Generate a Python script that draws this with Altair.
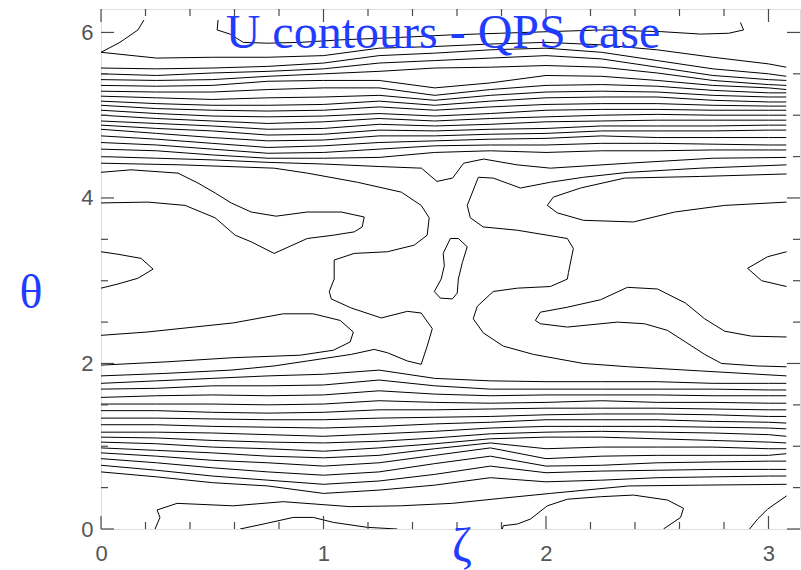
import math
import altair as alt
import pandas as pd

PI = math.pi

# ---------------- data (zeta, theta) ----------------
zeta_cols = [0.0, 0.25, 0.5, 0.75, 1.0, 1.25, 1.5, 1.75, 2.0, 2.25, 2.5, 2.75, 3.0, 3.08]

# upper band of nearly horizontal contours (theta at each zeta column)
upper_band = [
    [5.76, 5.69, 5.70, 5.70, 5.72, 5.81, 5.83, 5.86, 5.88, 5.85, 5.79, 5.70, 5.62, 5.58],
    [5.57, 5.56, 5.57, 5.59, 5.63, 5.72, 5.75, 5.79, 5.81, 5.76, 5.66, 5.56, 5.50, 5.47],
    [5.50, 5.48, 5.51, 5.53, 5.56, 5.63, 5.66, 5.69, 5.72, 5.68, 5.58, 5.48, 5.43, 5.42],
    [5.43, 5.42, 5.43, 5.47, 5.50, 5.53, 5.57, 5.58, 5.60, 5.58, 5.51, 5.42, 5.37, 5.36],
    [5.36, 5.35, 5.36, 5.41, 5.42, 5.42, 5.33, 5.39, 5.48, 5.47, 5.42, 5.36, 5.33, 5.31],
    [5.29, 5.28, 5.28, 5.31, 5.33, 5.33, 5.24, 5.31, 5.36, 5.37, 5.35, 5.30, 5.27, 5.27],
    [5.23, 5.21, 5.19, 5.21, 5.22, 5.24, 5.18, 5.24, 5.28, 5.29, 5.28, 5.24, 5.22, 5.22],
    [5.17, 5.14, 5.12, 5.12, 5.13, 5.17, 5.12, 5.17, 5.21, 5.22, 5.22, 5.18, 5.16, 5.16],
    [5.12, 5.08, 5.06, 5.05, 5.06, 5.10, 5.06, 5.10, 5.13, 5.14, 5.14, 5.12, 5.11, 5.11],
    [5.06, 5.02, 4.99, 4.98, 4.99, 5.02, 4.99, 5.02, 5.06, 5.07, 5.07, 5.06, 5.06, 5.06],
    [5.00, 4.96, 4.93, 4.90, 4.92, 4.96, 4.93, 4.96, 4.98, 5.00, 5.01, 5.00, 5.00, 5.00],
    [4.93, 4.90, 4.87, 4.83, 4.84, 4.89, 4.87, 4.89, 4.92, 4.93, 4.94, 4.94, 4.94, 4.94],
    [4.88, 4.84, 4.81, 4.76, 4.77, 4.82, 4.81, 4.83, 4.84, 4.87, 4.87, 4.87, 4.88, 4.88],
    [4.83, 4.78, 4.73, 4.69, 4.70, 4.75, 4.75, 4.77, 4.78, 4.81, 4.81, 4.81, 4.82, 4.82],
    [4.75, 4.71, 4.66, 4.61, 4.63, 4.67, 4.69, 4.71, 4.72, 4.75, 4.73, 4.73, 4.73, 4.73],
    [4.67, 4.64, 4.59, 4.54, 4.55, 4.59, 4.63, 4.64, 4.64, 4.66, 4.66, 4.65, 4.64, 4.64],
    [4.59, 4.57, 4.52, 4.48, 4.48, 4.49, 4.55, 4.57, 4.55, 4.57, 4.57, 4.58, 4.58, 4.58],
]

# lower band of nearly horizontal contours
lower_band = [
    [1.76, 1.79, 1.82, 1.85, 1.87, 1.92, 1.82, 1.79, 1.78, 1.78, 1.78, 1.76, 1.76, 1.76],
    [1.69, 1.70, 1.73, 1.73, 1.74, 1.80, 1.73, 1.69, 1.69, 1.69, 1.69, 1.69, 1.68, 1.68],
    [1.59, 1.61, 1.62, 1.61, 1.62, 1.67, 1.63, 1.61, 1.62, 1.62, 1.62, 1.61, 1.61, 1.61],
    [1.51, 1.51, 1.51, 1.50, 1.51, 1.55, 1.53, 1.52, 1.53, 1.55, 1.53, 1.53, 1.52, 1.52],
    [1.43, 1.43, 1.41, 1.40, 1.41, 1.44, 1.44, 1.45, 1.46, 1.46, 1.46, 1.45, 1.44, 1.44],
    [1.34, 1.34, 1.33, 1.32, 1.32, 1.34, 1.35, 1.36, 1.38, 1.39, 1.39, 1.38, 1.36, 1.36],
    [1.26, 1.26, 1.24, 1.23, 1.22, 1.24, 1.27, 1.29, 1.32, 1.32, 1.32, 1.30, 1.29, 1.28],
    [1.17, 1.17, 1.16, 1.14, 1.12, 1.15, 1.18, 1.22, 1.24, 1.24, 1.24, 1.23, 1.22, 1.21],
    [1.11, 1.10, 1.07, 1.05, 1.04, 1.06, 1.10, 1.15, 1.17, 1.18, 1.17, 1.16, 1.14, 1.12],
    [1.05, 1.03, 0.99, 0.97, 0.94, 0.98, 1.03, 1.09, 1.11, 1.11, 1.09, 1.07, 1.05, 1.04],
    [0.98, 0.95, 0.92, 0.88, 0.86, 0.89, 0.97, 1.04, 0.97, 0.99, 0.99, 0.99, 0.97, 0.97],
    [0.92, 0.88, 0.83, 0.80, 0.76, 0.80, 0.89, 0.98, 0.85, 0.88, 0.89, 0.89, 0.89, 0.91],
    [0.85, 0.80, 0.74, 0.69, 0.65, 0.69, 0.79, 0.88, 0.76, 0.77, 0.80, 0.81, 0.82, 0.82],
    [0.77, 0.71, 0.64, 0.59, 0.54, 0.58, 0.66, 0.76, 0.68, 0.70, 0.71, 0.72, 0.72, 0.72],
    [0.69, 0.63, 0.56, 0.52, 0.43, 0.47, 0.53, 0.62, 0.57, 0.59, 0.62, 0.63, 0.64, 0.64],
]

# individual contours: (zeta list, theta list)
band_edge_z = [0, 0.25, 0.5, 0.75, 1.0, 1.25, 1.44, 1.51, 1.58, 1.63, 1.72, 1.87, 2.02, 2.37, 2.75, 3.08]
band_edge_t = [4.50, 4.48, 4.46, 4.43, 4.41, 4.38, 4.36, 4.20, 4.24, 4.42, 4.47, 4.40, 4.36, 4.42, 4.48, 4.49]

corner_tl_z = [0, 0.085, 0.166, 0.193]
corner_tl_t = [5.76, 5.88, 6.03, 6.15]

top_arc_z = [0.526, 0.522, 0.580, 0.639, 0.751, 0.895, 1.075, 1.345, 1.570, 1.795, 2.020,
             2.245, 2.515, 2.695, 2.821, 2.888, 2.874]
top_arc_t = [6.15, 6.03, 5.98, 5.88, 5.87, 5.88, 5.91, 5.94, 5.97, 5.99, 6.01,
             6.03, 6.01, 5.98, 5.99, 6.03, 6.12]

tongue_a_z = [0, 0.135, 0.346, 0.436, 0.513, 0.585, 0.675, 0.787, 0.927, 1.080, 1.183,
              1.174, 1.138, 1.044, 0.927, 0.778, 0.675, 0.603, 0.513, 0.378, 0.211, 0]
tongue_a_t = [4.31, 4.34, 4.30, 4.18, 4.06, 3.94, 3.83, 3.78, 3.83, 3.83, 3.77,
              3.65, 3.59, 3.55, 3.51, 3.33, 3.47, 3.55, 3.76, 3.91, 3.95, 3.94]

tongue_b_z = [0, 0.076, 0.180, 0.234, 0.166, 0.076, 0]
tongue_b_t = [3.35, 3.32, 3.27, 3.14, 3.03, 2.96, 2.91]

centre_left_z = [0, 0.360, 0.778, 0.927, 1.152, 1.350, 1.439, 1.475, 1.466, 1.408, 1.287,
                 1.138, 1.048, 1.048, 1.026, 1.035, 1.125, 1.260, 1.377, 1.439, 1.489,
                 1.466, 1.439, 1.377, 1.287, 1.228, 1.125, 0.927, 0.778, 0.585, 0.288, 0]
centre_left_t = [4.42, 4.40, 4.36, 4.30, 4.19, 4.07, 3.91, 3.76, 3.55, 3.43, 3.35,
                 3.33, 3.25, 3.02, 2.87, 2.78, 2.67, 2.55, 2.63, 2.61, 2.42,
                 2.21, 1.99, 2.03, 2.13, 2.17, 2.11, 2.03, 1.97, 1.92, 1.88, 1.85]

tongue_c_z = [0, 0.207, 0.594, 0.819, 0.954, 1.075, 1.134, 1.120, 1.044, 0.895, 0.594, 0.297, 0]
tongue_c_t = [2.34, 2.38, 2.49, 2.60, 2.60, 2.52, 2.38, 2.26, 2.16, 2.10, 2.07, 2.02, 1.98]

centre_right_z = [3.081, 2.695, 2.371, 2.168, 2.020, 1.885, 1.763, 1.696, 1.646, 1.660, 1.718,
                  1.871, 2.096, 2.123, 2.101, 2.096, 2.020, 1.871, 1.763, 1.691, 1.673,
                  1.718, 1.808, 1.943, 2.168, 2.371, 2.695, 3.081]
centre_right_t = [4.40, 4.36, 4.31, 4.25, 4.19, 4.12, 4.24, 4.25, 3.91, 3.76, 3.65,
                  3.61, 3.51, 3.39, 3.10, 3.02, 2.93, 2.91, 2.87, 2.69, 2.54,
                  2.37, 2.21, 2.11, 2.00, 1.96, 1.91, 1.85]

tongue_d_z = [3.081, 2.803, 2.578, 2.393, 2.168, 2.051, 2.006, 2.033, 2.155, 2.353, 2.695, 3.081]
tongue_d_t = [3.95, 3.91, 3.83, 3.71, 3.73, 3.82, 3.91, 4.01, 4.12, 4.24, 4.26, 4.29]

tongue_e_z = [3.081, 2.996, 2.906, 2.969, 3.081]
tongue_e_t = [3.35, 3.29, 3.15, 3.00, 2.93]

tongue_f_z = [3.081, 2.924, 2.803, 2.713, 2.627, 2.501, 2.366, 2.245, 2.096, 1.975, 1.952,
              1.975, 2.096, 2.321, 2.443, 2.546, 2.627, 2.713, 2.789, 2.951, 3.081]
tongue_f_t = [2.32, 2.33, 2.39, 2.54, 2.73, 2.90, 2.92, 2.77, 2.68, 2.62, 2.52,
              2.48, 2.44, 2.50, 2.48, 2.40, 2.26, 2.11, 2.00, 1.97, 1.96]

islet_z = [1.538, 1.570, 1.606, 1.646, 1.624, 1.606, 1.601, 1.579, 1.525, 1.498, 1.529, 1.543, 1.538]
islet_t = [3.33, 3.51, 3.51, 3.41, 3.22, 3.02, 2.85, 2.78, 2.79, 2.87, 3.02, 3.18, 3.33]

low_line_z = [0.243, 0.265, 0.252, 0.342, 0.594, 0.819, 1.120, 1.345, 1.579, 1.795, 2.020, 2.371, 2.695, 3.081]
low_line_t = [0.0, 0.14, 0.23, 0.31, 0.28, 0.33, 0.27, 0.28, 0.31, 0.37, 0.43, 0.52, 0.53, 0.54]

bump_a_z = [0.625, 0.747, 0.864, 0.954, 1.044, 1.197, 1.332]
bump_a_t = [0.0, 0.07, 0.14, 0.14, 0.08, 0.02, 0.0]

bump_b_z = [1.804, 1.808, 1.871, 1.930, 2.006, 2.096, 2.245, 2.393, 2.546, 2.618, 2.605, 2.528]
bump_b_t = [0.0, 0.04, 0.06, 0.12, 0.28, 0.36, 0.39, 0.41, 0.35, 0.25, 0.14, 0.0]

corner_br_z = [3.081, 2.996, 2.951, 2.915]
corner_br_t = [0.40, 0.24, 0.12, 0.0]

# axis ticks and labels
x_major = [0, 1, 2, 3]
x_minor = [0.2, 0.4, 0.6, 0.8, 1.2, 1.4, 1.6, 1.8, 2.2, 2.4, 2.6, 2.8]
y_major = [0, 2, 4, 6]
y_minor = [0.5, 1.0, 1.5, 2.5, 3.0, 3.5, 4.5, 5.0, 5.5]

title_text = "U contours - QPS case"
x_title = "ζ"
y_title = "θ"

# ---------------- build table ----------------
rows = []


def add(name, zs, ts):
    for i, (z, t) in enumerate(zip(zs, ts)):
        rows.append({"line": name, "i": i, "zeta": z, "theta": t})


for k, ts in enumerate(upper_band):
    add(f"u{k}", zeta_cols, ts)
for k, ts in enumerate(lower_band):
    add(f"l{k}", zeta_cols, ts)
add("edge", band_edge_z, band_edge_t)
add("ctl", corner_tl_z, corner_tl_t)
add("arc", top_arc_z, top_arc_t)
add("ta", tongue_a_z, tongue_a_t)
add("tb", tongue_b_z, tongue_b_t)
add("cl", centre_left_z, centre_left_t)
add("tc", tongue_c_z, tongue_c_t)
add("cr", centre_right_z, centre_right_t)
add("td", tongue_d_z, tongue_d_t)
add("te", tongue_e_z, tongue_e_t)
add("tf", tongue_f_z, tongue_f_t)
add("isl", islet_z, islet_t)
add("low", low_line_z, low_line_t)
add("ba", bump_a_z, bump_a_t)
add("bb", bump_b_z, bump_b_t)
add("cbr", corner_br_z, corner_br_t)
df = pd.DataFrame(rows)

W, H = 699, 520
XS = alt.Scale(domain=[0, PI], nice=False, zero=False)
YS = alt.Scale(domain=[0, 2 * PI], nice=False, zero=False)
AX = "#4a4a4a"
BLUE = "#1f3cff"

XAX = alt.Axis(values=x_major, format="d", ticks=False, domain=False, grid=False,
               labelFontSize=22, labelColor="#555555", labelFont="Liberation Sans",
               labelPadding=14, labelFlush=False, title=None)
YAX = alt.Axis(values=y_major, format="d", ticks=False, domain=False, grid=False,
               labelFontSize=22, labelColor="#555555", labelFont="Liberation Sans",
               labelPadding=8, labelFlush=False, title=None)

contours = alt.Chart(df).mark_line(color="#000000", strokeWidth=1.0, clip=True).encode(
    x=alt.X("zeta:Q", scale=XS, axis=XAX),
    y=alt.Y("theta:Q", scale=YS, axis=YAX),
    detail="line:N",
    order="i:Q",
)


def xticks(vals, length, top):
    d = pd.DataFrame({"zeta": vals})
    y0 = 0 if top else H
    y1 = length if top else H - length
    return alt.Chart(d).mark_rule(color=AX, strokeWidth=1.2).encode(
        x=alt.X("zeta:Q", scale=XS, axis=XAX), y=alt.value(y0), y2=alt.value(y1))


def yticks(vals, length, right):
    d = pd.DataFrame({"theta": vals})
    x0 = W if right else 0
    x1 = W - length if right else length
    return alt.Chart(d).mark_rule(color=AX, strokeWidth=1.2).encode(
        y=alt.Y("theta:Q", scale=YS, axis=YAX), x=alt.value(x0), x2=alt.value(x1))


ticks = [
    xticks(x_major, 13, False), xticks(x_minor, 7, False),
    xticks(x_major, 13, True), xticks(x_minor, 7, True),
    yticks(y_major, 13, False), yticks(y_minor, 7, False),
    yticks(y_major, 13, True), yticks(y_minor, 7, True),
]


def label(txt, x, y):
    return alt.Chart(pd.DataFrame({"t": [txt]})).mark_text(
        font="Liberation Serif", fontSize=48, color=BLUE, align="center", baseline="alphabetic"
    ).encode(text="t:N", x=alt.value(x), y=alt.value(y))


chart = alt.layer(
    contours, *ticks,
    label(title_text, 342, 39),
    label(y_title, -70, 299),
    label(x_title, 361, 552),
).properties(
    width=W, height=H,
    padding={"left": 101, "top": 9, "right": 1, "bottom": 41},
    autosize=alt.AutoSizeParams(type="none"),
).configure_view(stroke=AX, strokeWidth=1.5).configure(background="white")

chart.save("out.html", embed_options={"renderer": "svg", "actions": False})
